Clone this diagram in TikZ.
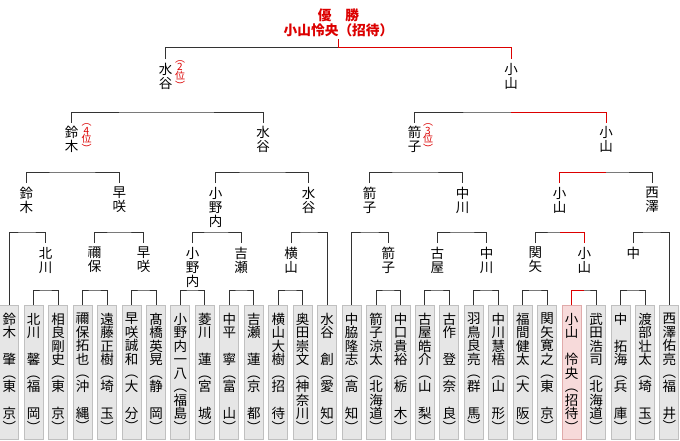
\documentclass[tikz,border=0pt]{standalone}
\usepackage{fontspec}
\newfontfamily\jpfont{Noto Sans CJK JP}
\newcommand\jpname{\jpfont\fontsize{13.5}{14}\selectfont}
\newcommand\jpbox{\jpfont\fontsize{13.5}{13.5}\selectfont}
\newcommand\jprank{\jpfont\fontsize{10}{8.5}\selectfont}
\newcommand\jpchamp{\jpfont\bfseries\fontsize{13.7}{14.5}\selectfont}
\definecolor{linec}{RGB}{51,51,51}
\definecolor{redc}{RGB}{220,0,0}
\definecolor{boxfill}{RGB}{230,230,230}
\definecolor{boxline}{RGB}{192,192,192}
\definecolor{pinkfill}{RGB}{247,218,218}
\definecolor{pinkline}{RGB}{224,170,170}
\begin{document}
\begin{tikzpicture}[x=1pt,y=-1pt,
  nm/.style={font=\jpname, align=center, inner sep=0pt, outer ysep=4pt, anchor=north},
  lf/.style={draw=boxline, fill=boxfill, line width=1pt, minimum width=19pt, minimum height=134pt, inner sep=0pt, anchor=north, font=\jpbox, align=center},
  lfw/.style={lf, draw=pinkline, fill=pinkfill},
  ln/.style={draw=linec, line width=1pt},
  win/.style={draw=redc, line width=1pt},
  rk/.style={font=\jprank, text=redc, align=center, inner sep=0pt, anchor=north}]
\fill[white] (0,0) rectangle (680,440);
\useasboundingbox (0,0) rectangle (680,440);
% level coordinates
\coordinate (L1) at (0,290);
\coordinate (L2) at (0,232);
\coordinate (L3) at (0,172);
\coordinate (L4) at (0,112);
\coordinate (L5) at (0,47.5);
% leaves
\node[lf] (b0) at ({9.3+24.45*0},305) {鈴\\木\\　\\肇\\︵\\東\\　\\京\\︶};
\node[lf] (b1) at ({9.3+24.45*1},305) {北\\川\\　\\馨\\︵\\福\\　\\岡\\︶};
\node[lf] (b2) at ({9.3+24.45*2},305) {相\\良\\剛\\史\\︵\\東\\　\\京\\︶};
\node[lf] (b3) at ({9.3+24.45*3},305) {禰\\保\\拓\\也\\︵\\沖\\　\\縄\\︶};
\node[lf] (b4) at ({9.3+24.45*4},305) {遠\\藤\\正\\樹\\︵\\埼\\　\\玉\\︶};
\node[lf] (b5) at ({9.3+24.45*5},305) {早\\咲\\誠\\和\\︵\\大\\　\\分\\︶};
\node[lf] (b6) at ({9.3+24.45*6},305) {髙\\橋\\英\\晃\\︵\\静\\　\\岡\\︶};
\node[lf] (b7) at ({9.3+24.45*7},305) {小\\野\\内\\一\\八\\︵\\福\\島\\︶};
\node[lf] (b8) at ({9.3+24.45*8},305) {菱\\川\\　\\蓮\\︵\\宮\\　\\城\\︶};
\node[lf] (b9) at ({9.3+24.45*9},305) {中\\平\\　\\寧\\︵\\富\\　\\山\\︶};
\node[lf] (b10) at ({9.3+24.45*10},305) {吉\\瀬\\　\\蓮\\︵\\京\\　\\都\\︶};
\node[lf] (b11) at ({9.3+24.45*11},305) {横\\山\\大\\樹\\︵\\招\\　\\待\\︶};
\node[lf] (b12) at ({9.3+24.45*12},305) {奥\\田\\崇\\文\\︵\\神\\奈\\川\\︶};
\node[lf] (b13) at ({9.3+24.45*13},305) {水\\谷\\　\\創\\︵\\愛\\　\\知\\︶};
\node[lf] (b14) at ({9.3+24.45*14},305) {中\\脇\\隆\\志\\︵\\高\\　\\知\\︶};
\node[lf] (b15) at ({9.3+24.45*15},305) {箭\\子\\涼\\太\\︵\\北\\海\\道\\︶};
\node[lf] (b16) at ({9.3+24.45*16},305) {中\\口\\貴\\裕\\︵\\栃\\　\\木\\︶};
\node[lf] (b17) at ({9.3+24.45*17},305) {古\\屋\\皓\\介\\︵\\山\\　\\梨\\︶};
\node[lf] (b18) at ({9.3+24.45*18},305) {古\\作\\　\\登\\︵\\奈\\　\\良\\︶};
\node[lf] (b19) at ({9.3+24.45*19},305) {羽\\鳥\\良\\亮\\︵\\群\\　\\馬\\︶};
\node[lf] (b20) at ({9.3+24.45*20},305) {中\\川\\慧\\梧\\︵\\山\\　\\形\\︶};
\node[lf] (b21) at ({9.3+24.45*21},305) {福\\間\\健\\太\\︵\\大\\　\\阪\\︶};
\node[lf] (b22) at ({9.3+24.45*22},305) {関\\矢\\寛\\之\\︵\\東\\　\\京\\︶};
\node[lfw] (b23) at ({9.3+24.45*23},305) {小\\山\\　\\怜\\央\\︵\\招\\待\\︶};
\node[lf] (b24) at ({9.3+24.45*24},305) {武\\田\\浩\\司\\︵\\北\\海\\道\\︶};
\node[lf] (b25) at ({9.3+24.45*25},305) {中\\　\\拓\\海\\︵\\兵\\　\\庫\\︶};
\node[lf] (b26) at ({9.3+24.45*26},305) {渡\\部\\壮\\太\\︵\\埼\\　\\玉\\︶};
\node[lf] (b27) at ({9.3+24.45*27},305) {西\\澤\\佑\\亮\\︵\\福\\　\\井\\︶};
% round 1 winners
\node[nm] (r1a) at (45.5,243) {北\\川};
\node[nm] (r1b) at (94.5,243) {禰\\保};
\node[nm] (r1c) at (143.5,243) {早\\咲};
\node[nm] (r1d) at (192.5,243) {小\\野\\内};
\node[nm] (r1e) at (241.2,243) {吉\\瀬};
\node[nm] (r1f) at (291,243) {横\\山};
\node[nm] (r1g) at (388.3,243) {箭\\子};
\node[nm] (r1h) at (437.3,243) {古\\屋};
\node[nm] (r1i) at (486.5,243) {中\\川};
\node[nm] (r1j) at (535.3,243) {関\\矢};
\node[nm] (r1k) at (584.3,243) {小\\山};
\node[nm] (r1l) at (633.3,243) {中};
% round 2 winners
\node[nm] (r2a) at (26.5,183) {鈴\\木};
\node[nm] (r2b) at (119.3,183) {早\\咲};
\node[nm] (r2c) at (215.5,183) {小\\野\\内};
\node[nm] (r2d) at (308.5,183) {水\\谷};
\node[nm] (r2e) at (369.5,183) {箭\\子};
\node[nm] (r2f) at (462.5,183) {中\\川};
\node[nm] (r2g) at (559.5,183) {小\\山};
\node[nm] (r2h) at (652,183) {西\\澤};
% round 3 winners
\node[nm] (r3a) at (71.7,122.5) {鈴\\木};
\node[nm] (r3b) at (263,122.5) {水\\谷};
\node[nm] (r3c) at (414.5,122.5) {箭\\子};
\node[nm] (r3d) at (606,122.5) {小\\山};
% round 4 winners
\node[nm] (r4a) at (165.5,59) {水\\谷};
\node[nm] (r4b) at (511,59) {小\\山};
% ranks
\node[rk] (rk2) at (180,60) {︵\\2\\位\\︶};
\node[rk] (rk4) at (86.5,123.5) {︵\\4\\位\\︶};
\node[rk] (rk3) at (428,123.5) {︵\\3\\位\\︶};
% champion
\node[font=\jpchamp, text=redc, align=center, inner sep=0pt, outer ysep=2pt, anchor=north] (ch) at (338.5,7) {優　勝\\小山怜央（招待）};
% level 1 bars
\draw[ln] (b1.north) |- (r1a.north |- L1) -| (b2.north);
\draw[ln] (b3.north) |- (r1b.north |- L1) -| (b4.north);
\draw[ln] (b5.north) |- (r1c.north |- L1) -| (b6.north);
\draw[ln] (b7.north) |- (r1d.north |- L1) -| (b8.north);
\draw[ln] (b9.north) |- (r1e.north |- L1) -| (b10.north);
\draw[ln] (b11.north) |- (r1f.north |- L1) -| (b12.north);
\draw[ln] (b15.north) |- (r1g.north |- L1) -| (b16.north);
\draw[ln] (b17.north) |- (r1h.north |- L1) -| (b18.north);
\draw[ln] (b19.north) |- (r1i.north |- L1) -| (b20.north);
\draw[ln] (b21.north) |- (r1j.north |- L1) -| (b22.north);
\draw[ln] (b23.north) |- (r1k.north |- L1) -| (b24.north);
\draw[ln] (b25.north) |- (r1l.north |- L1) -| (b26.north);
% level 2 bars
\draw[ln] (b0.north) |- (r2a.north |- L2) -| (r1a.north);
\draw[ln] (r1b.north) |- (r2b.north |- L2) -| (r1c.north);
\draw[ln] (r1d.north) |- (r2c.north |- L2) -| (r1e.north);
\draw[ln] (r1f.north) |- (r2d.north |- L2) -| (b13.north);
\draw[ln] (b14.north) |- (r2e.north |- L2) -| (r1g.north);
\draw[ln] (r1h.north) |- (r2f.north |- L2) -| (r1i.north);
\draw[ln] (r1j.north) |- (r2g.north |- L2) -| (r1k.north);
\draw[ln] (r1l.north) |- (r2h.north |- L2) -| (b27.north);
% level 3 bars
\draw[ln] (r2a.north) |- (r3a.north |- L3) -| (r2b.north);
\draw[ln] (r2c.north) |- (r3b.north |- L3) -| (r2d.north);
\draw[ln] (r2e.north) |- (r3c.north |- L3) -| (r2f.north);
\draw[ln] (r2g.north) |- (r3d.north |- L3) -| (r2h.north);
% level 4 bars
\draw[ln] (r3a.north) |- (r4a.north |- L4) -| (r3b.north);
\draw[ln] (r3c.north) |- (r4b.north |- L4) -| (r3d.north);
% final
\draw[ln] (r4a.north) |- (ch.south |- L5) -| (r4b.north);
% winner path
\draw[win] (b23.north) |- (r1k.north |- L1);
\draw[win] (r1k.north) |- (r2g.north |- L2);
\draw[win] (r2g.north) |- (r3d.north |- L3);
\draw[win] (r3d.north) |- (r4b.north |- L4);
\draw[win] (r4b.north) |- (ch.south |- L5) -- (ch.south);
\end{tikzpicture}
\end{document}
